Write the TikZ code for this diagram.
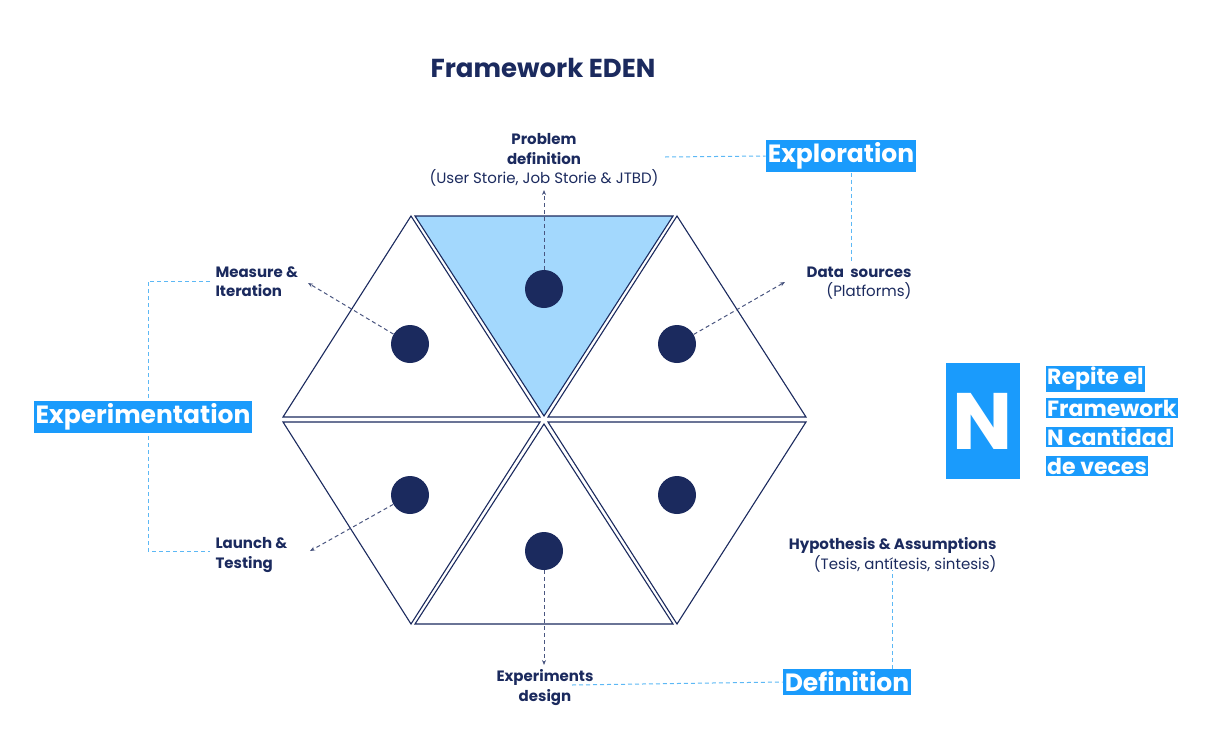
\documentclass[tikz,border=0pt]{standalone}
\usepackage{fontspec}
\setmainfont{Poppins}
\usetikzlibrary{arrows.meta}
\definecolor{navy}{HTML}{1B2A5E}
\definecolor{hlblue}{HTML}{1A9BFC}
\definecolor{lightfill}{HTML}{A3D8FD}
\definecolor{dashblue}{HTML}{5CB8F5}
\definecolor{arrowgray}{HTML}{4A5680}
\tikzset{
  tri/.style={draw=navy, line width=1.1pt, line join=miter, fill=white},
  dot/.style={circle, fill=navy, minimum size=38pt, inner sep=0pt},
  darr/.style={draw=arrowgray, line width=1pt, dash pattern=on 4pt off 3pt, -{Stealth[length=5pt,width=4pt]}},
  guide/.style={draw=dashblue, line width=1pt, dash pattern=on 4pt off 3pt},
  hl/.style={fill=hlblue, text=white, font=\bfseries\fontsize{25}{28}\selectfont, inner xsep=2pt, inner ysep=3pt},
  hlsmall/.style={fill=hlblue, text=white, font=\bfseries\fontsize{22}{25}\selectfont, inner xsep=1pt, inner ysep=1.5pt, anchor=west},
  lbl/.style={text=navy, font=\fontsize{15}{19.5}\selectfont},
}
\begin{document}
\begin{tikzpicture}[x=1pt,y=-1pt]
\useasboundingbox (0,0) rectangle (1219,750);
% title
\node[text=navy, font=\bfseries\fontsize{26}{30}\selectfont] (title) at (543,68) {Framework EDEN};
% triangles
\draw[tri] (283,417) -- (411,216) -- (540,417) -- cycle;
\draw[tri, fill=lightfill] (415,216) -- (673,216) -- (544,416) -- cycle;
\draw[tri] (548,417) -- (677,216) -- (806,417) -- cycle;
\draw[tri] (283,422) -- (540,422) -- (411,624) -- cycle;
\draw[tri] (415,624) -- (673,624) -- (544,424) -- cycle;
\draw[tri] (548,422) -- (806,422) -- (677,624) -- cycle;
% dots
\node[dot] (d1) at (544,289) {};
\node[dot] (d2) at (677,344) {};
\node[dot] (d3) at (677,495) {};
\node[dot] (d4) at (544,551) {};
\node[dot] (d5) at (410,495) {};
\node[dot] (d6) at (410,344) {};
% labels
\node[lbl, align=center, anchor=north] (l1) at (544,130) {\textbf{Problem}\\\textbf{definition}\\(User Storie, Job Storie \& JTBD)};
\node[lbl, align=right, anchor=north east] (l2) at (915,263) {\textbf{Data\ \ sources}\\(Platforms)};
\node[lbl, align=right, anchor=north east] (l3) at (1000,534) {\textbf{Hypothesis \& Assumptions}\\(Tesis, antítesis, sintesis)};
\node[lbl, align=center, anchor=north] (l4) at (545,666) {\textbf{Experiments}\\\textbf{design}};
\node[lbl, align=left, anchor=north west] (l5) at (212,534) {\textbf{Launch \&}\\\textbf{Testing}};
\node[lbl, align=left, anchor=north west] (l6) at (212,263) {\textbf{Measure \&}\\\textbf{Iteration}};
% arrow end coordinates
\coordinate (a1) at (544,190);
\coordinate (a2) at (785,282);
\coordinate (a4) at (544,665);
\coordinate (a5) at (310,551);
\coordinate (a6) at (308,283);
\draw[darr] (d1) -- (a1);
\draw[darr] (d2) -- (a2);
\draw[darr] (d4) -- (a4);
\draw[darr] (d5) -- (a5);
\draw[darr] (d6) -- (a6);
% guide lines
\coordinate (g1) at (665,157);
\coordinate (g2) at (851,262);
\coordinate (g3) at (210,281);
\coordinate (g4) at (148,281);
\coordinate (g5) at (148,551);
\coordinate (g6) at (210,551);
\coordinate (g7) at (572,685);
\coordinate (g8) at (892,570);
\draw[guide] (g3) -- (g4) -- (g5) -- (g6);
% stage boxes
\node[hl] (explo) at (841,156) {Exploration};
\node[hl] (exper) at (143,417) {Experimentation};
\node[hl] (defi) at (847,682) {Definition};
\draw[guide] (g1) -- (explo.west);
\draw[guide] (explo.south -| g2) -- (g2);
\draw[guide] (g7) -- (defi.west);
\draw[guide] (defi.north -| g8) -- (g8);
% N block
\node[fill=hlblue, text=white, font=\bfseries\fontsize{80}{80}\selectfont, minimum width=74pt, minimum height=116pt, inner sep=0pt] (nbox) at (983,421) {N};
\node[hlsmall] (r1) at (1046,379) {Repite el};
\node[hlsmall] (r2) at (1046,408) {Framework};
\node[hlsmall] (r3) at (1046,437) {N cantidad};
\node[hlsmall] (r4) at (1046,466) {de veces};
\end{tikzpicture}
\end{document}
